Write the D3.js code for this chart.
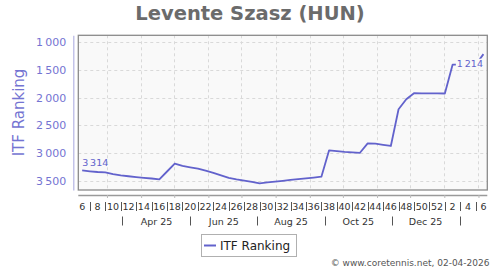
<!DOCTYPE html>
<html><head><meta charset="utf-8">
<script src="https://cdn.jsdelivr.net/npm/d3@7"></script>
<style>body{margin:0;background:#fff}svg{display:block;font-family:"DejaVu Sans",sans-serif}</style>
</head><body><svg id="c" width="500" height="270"></svg>
<script>
const title = "Levente Szasz (HUN)";
const seriesName = "ITF Ranking";
const startWeek = "2025-02-03"; // Monday of ISO week 6, 2025
const rankings = [3314,3330,3343,3348,3380,3405,3420,3435,3448,3460,3475,3334,3193,3234,3258,3280,3320,3360,3405,3448,3475,3498,3520,3547,3532,3517,3502,3487,3473,3458,3443,3428,2951,2965,2978,2987,2996,2825,2832,2852,2873,2210,2030,1921,1922,1924,1924,1925,1405,1405,1405,1405,1214];
const weekLabels = ["6","8","10","12","14","16","18","20","22","24","26","28","30","32","34","36","38","40","42","44","46","48","50","52","2","4","6"];
const monthLabels = ["Apr 25","Jun 25","Aug 25","Oct 25","Dec 25"];
const monthLabelDates = ["2025-04-15","2025-06-15","2025-08-15","2025-10-15","2025-12-15"];
const monthSepDates = ["2025-03-15","2025-05-15","2025-07-15","2025-09-15","2025-11-15","2026-01-15"];
const yTicks = [1000,1500,2000,2500,3000,3500];
const credit = "\u00a9 www.coretennis.net, 02-04-2026";

const svg = d3.select("#c");
const L = 78.3, R = 487.3, T = 35.3, B = 190;
const DAY = 864e5;
const start = new Date(startWeek + "T00:00:00Z");
const end = new Date(start.getTime() + 53*7*DAY);
const x = d3.scaleUtc().domain([start, end]).range([L, R]);
const y = d3.scaleLinear().domain([874, 3668]).range([T, B]);
const ptDate = i => new Date(start.getTime() + (7*i + 3.5)*DAY);
const utc = s => new Date(s + "T00:00:00Z");
const lineColor = "#6262cc";
const fmt = d3.formatLocale({thousands:"\u2009", grouping:[3], decimal:".", currency:["",""]}).format(",");

// title
svg.append("text").attr("x", 250).attr("y", 20).attr("text-anchor","middle")
  .attr("font-size", 19.5).attr("font-weight","bold").attr("fill","#6b6b6b").text(title);

// plot background
svg.append("rect").attr("x", L).attr("y", T).attr("width", R-L).attr("height", B-T)
  .attr("fill", "#f9f9f9");

// grid
const g = svg.append("g").attr("stroke","#d9d9d9").attr("stroke-dasharray","3,3").attr("stroke-width",1);
g.selectAll("line.h").data(yTicks).join("line")
  .attr("x1", L).attr("x2", R).attr("y1", d=>Math.round(y(d))+0.5).attr("y2", d=>Math.round(y(d))+0.5);
const months = d3.utcMonth.range(d3.utcMonth.ceil(start), end);
g.selectAll("line.v").data(months).join("line")
  .attr("y1", T).attr("y2", B).attr("x1", d=>Math.round(x(d))+0.5).attr("x2", d=>Math.round(x(d))+0.5);

// border
svg.append("rect").attr("x", L).attr("y", T).attr("width", R-L).attr("height", B-T)
  .attr("fill","none").attr("stroke","#8a8a8a").attr("stroke-width",1.3);

// y axis
const yAxis = d3.axisLeft(y).tickValues(yTicks).tickSize(0).tickPadding(7).tickFormat(d => fmt(d));
const ya = svg.append("g").attr("transform", `translate(73.3,0)`).call(yAxis);
ya.select(".domain").attr("stroke","#b4b4e4").attr("stroke-width",1.2);
ya.selectAll("text").attr("font-size", 11).attr("fill","#7474d2").attr("font-family","DejaVu Sans");
svg.append("text").attr("transform","translate(24,112.5) rotate(-90)").attr("text-anchor","middle")
  .attr("font-size", 15).attr("fill","#7474d2").text(seriesName);

// x axis
const xAxis = d3.axisBottom(x).tickValues(months).tickSize(3).tickFormat("");
const xa = svg.append("g").attr("transform", `translate(0,195)`).call(xAxis);
xa.select(".domain").attr("stroke","#9a9a9a").attr("stroke-width",1.3).attr("d", `M${L},0.5H${R}`);
xa.selectAll(".tick line").attr("stroke","#bbbbbb");

// week labels
const wl = svg.append("g").attr("font-size", 9.5).attr("fill","#333").attr("text-anchor","middle");
wl.selectAll("text").data(weekLabels).join("text")
  .attr("x", (d,i)=>x(ptDate(2*i))).attr("y", 209.5).text(d=>d);
const seps = d3.range(weekLabels.length-1).map(i => ptDate(2*i+1));
svg.append("g").attr("stroke","#555").attr("stroke-width",1).selectAll("line").data(seps).join("line")
  .attr("x1", d=>Math.round(x(d))+0.5).attr("x2", d=>Math.round(x(d))+0.5).attr("y1", 202).attr("y2", 211);

// month labels
svg.append("g").attr("font-size", 9.5).attr("fill","#333").attr("text-anchor","middle")
  .selectAll("text").data(monthLabels).join("text")
  .attr("x", (d,i)=>x(utc(monthLabelDates[i]))).attr("y", 224.5).text(d=>d);
svg.append("g").attr("stroke","#555").attr("stroke-width",1).selectAll("line").data(monthSepDates).join("line")
  .attr("x1", d=>Math.round(x(utc(d)))+0.5).attr("x2", d=>Math.round(x(utc(d)))+0.5).attr("y1", 216.5).attr("y2", 225.5);

// line
const line = d3.line().x((d,i)=>x(ptDate(i))).y(d=>y(d));
svg.append("path").datum(rankings).attr("d", line).attr("fill","none")
  .attr("stroke", lineColor).attr("stroke-width", 1.8).attr("stroke-linejoin","round");

// value labels
const first = rankings[0], last = rankings[rankings.length-1];
svg.append("text").attr("x", x(ptDate(0))).attr("y", y(first)-4.6).attr("font-size", 9.5)
  .attr("fill", "#6262cc").text(fmt(first));
const lastX = x(ptDate(rankings.length-1));
const lg0 = svg.append("g");
const bgRect = lg0.append("rect").attr("fill","#f9f9f9");
const lt = lg0.append("text").attr("x", lastX-0.5).attr("y", y(last)+12.6).attr("font-size", 9.5)
  .attr("text-anchor","end").attr("fill", "#6262cc").text(fmt(last));
const bb = lt.node().getBBox();
bgRect.attr("x", bb.x-1).attr("y", bb.y+1).attr("width", bb.width+1).attr("height", bb.height-2);

// legend
const lg = svg.append("g");
lg.append("rect").attr("x", 201.5).attr("y", 234.5).attr("width", 95).attr("height", 22)
  .attr("fill","#fff").attr("stroke","#b0b0b0");
lg.append("line").attr("x1", 204).attr("x2", 216).attr("y1", 245.5).attr("y2", 245.5)
  .attr("stroke", lineColor).attr("stroke-width", 2);
lg.append("text").attr("x", 220).attr("y", 250).attr("font-size", 12).attr("fill","#222").text(seriesName);

// credit
svg.append("text").attr("x", 489.5).attr("y", 266).attr("text-anchor","end").attr("font-size", 9)
  .attr("fill","#555").text(credit);
</script></body></html>
